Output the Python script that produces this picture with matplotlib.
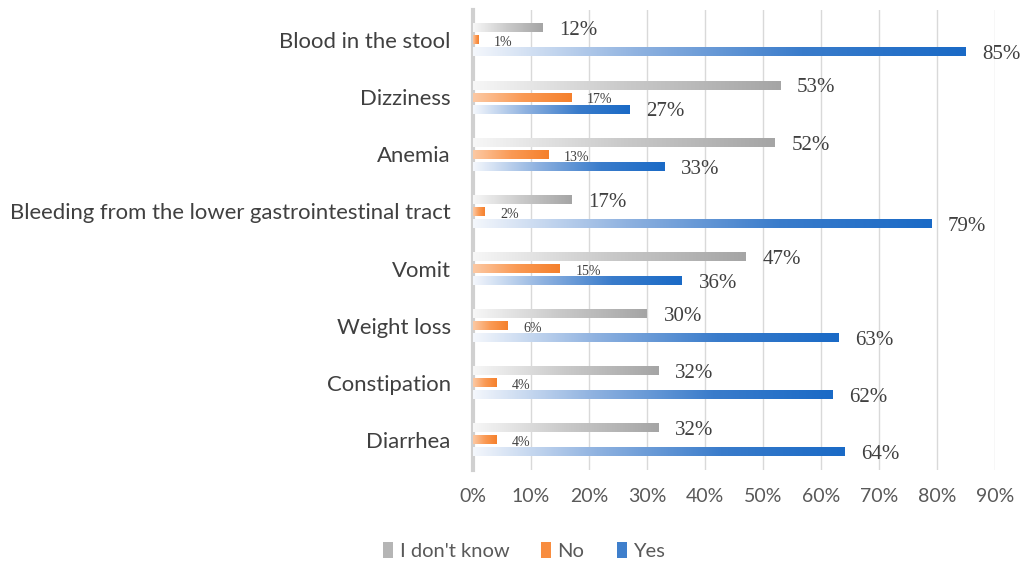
import numpy as np
import matplotlib
matplotlib.use("Agg")
import matplotlib.pyplot as plt
from matplotlib.colors import LinearSegmentedColormap
from matplotlib.patches import Patch

categories = ["Diarrhea", "Constipation", "Weight loss", "Vomit",
              "Bleeding from the lower gastrointestinal tract", "Anemia",
              "Dizziness", "Blood in the stool"]
dont_know = [32, 32, 30, 47, 17, 52, 53, 12]
no_vals = [4, 4, 6, 15, 2, 13, 17, 1]
yes_vals = [64, 62, 63, 36, 79, 33, 27, 85]
xticks = [0, 10, 20, 30, 40, 50, 60, 70, 80, 90]
series_names = ["I don't know", "No", "Yes"]

fig = plt.figure(figsize=(10.26, 5.63), dpi=100)
ax = fig.add_axes([473 / 1026, 1 - 470 / 563, (995 - 473) / 1026, 460 / 563])

cmaps = [
    LinearSegmentedColormap.from_list("g", ["#f7f7f7", "#c9c9c9", "#a5a5a5"]),
    LinearSegmentedColormap.from_list("o", ["#fcc9a4", "#fa9a55", "#f5802c"]),
    LinearSegmentedColormap.from_list("b", ["#f4f7fc", "#8fb2e0", "#3a7ccb", "#1a6ac6"]),
]
offsets = [0.21, 0.0, -0.21]
h = 0.155
grad = np.linspace(0, 1, 256).reshape(1, -1)

series = [dont_know, no_vals, yes_vals]
for s, vals in enumerate(series):
    for i, v in enumerate(vals):
        y = i + offsets[s]
        ax.imshow(grad, cmap=cmaps[s], extent=[0, v, y - h / 2, y + h / 2],
                  aspect="auto", interpolation="bicubic", zorder=3)
        if s == 1:
            ax.annotate(f"{v}%", (v, y), xytext=(11, -2), textcoords="offset points",
                        va="center", ha="left", fontsize=10, color="#404040",
                        family="Liberation Serif", zorder=4)
        else:
            ax.annotate(f"{v}%", (v, y), xytext=(12, -2), textcoords="offset points",
                        va="center", ha="left", fontsize=15, color="#404040",
                        family="Liberation Serif", zorder=4)

ax.set_xlim(0, 90)
ax.set_ylim(-0.525, 7.525)
ax.set_xticks(xticks)
ax.set_xticklabels([f"{t}%" for t in xticks], fontsize=14, color="#595959", family="Lato")
ax.set_yticks(range(len(categories)))
ax.set_yticklabels(categories, fontsize=15.9, color="#404040", family="Lato")
ax.tick_params(axis="both", length=0)
ax.tick_params(axis="x", pad=13)
ax.tick_params(axis="y", pad=16)
ax.grid(axis="x", color="#d9d9d9", lw=1, zorder=0)
ax.set_axisbelow(True)
for sp in ["top", "right", "bottom"]:
    ax.spines[sp].set_visible(False)
ax.spines["left"].set_color("#d0d0d0")
ax.spines["left"].set_linewidth(3)

handles = [Patch(facecolor=c, edgecolor="none") for c in ["#b5b5b5", "#f88d40", "#3f7fcc"]]
fig.legend(handles, series_names, loc="center", bbox_to_anchor=(524 / 1026, 1 - 551 / 563),
           ncol=3, frameon=False, handlelength=0.5, handleheight=0.8, handletextpad=0.3,
           columnspacing=1.6, prop={"family": "Lato", "size": 14.5}, labelcolor="#595959")

fig.savefig("out.png", dpi=100)
